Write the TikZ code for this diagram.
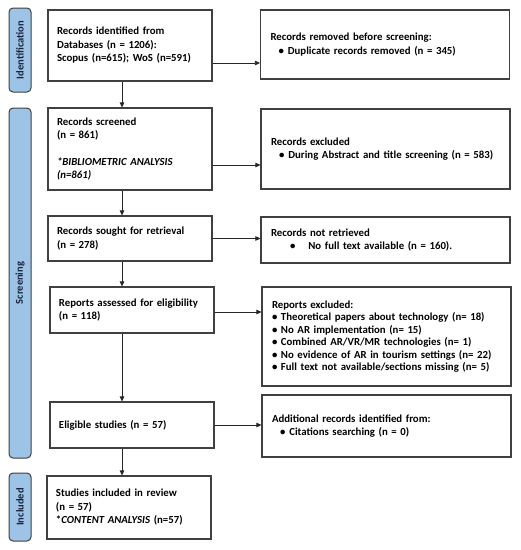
\documentclass[tikz,border=0pt]{standalone}
\usepackage{fontspec}
\setmainfont{Carlito}
\usetikzlibrary{arrows.meta}
\definecolor{stagefill}{RGB}{157,195,230}
\definecolor{stagetext}{RGB}{25,35,60}
\definecolor{edgegray}{RGB}{64,64,64}
\begin{document}
\begin{tikzpicture}[
    x=1pt, y=-1pt,
    font=\fontsize{10.8}{13.5}\selectfont\bfseries,
    box/.style={draw=edgegray, line width=1.1pt, minimum height=#1, inner ysep=0pt, align=left},
    mainbox/.style={box=#1, text width=146pt, inner xsep=9pt},
    sidebox/.style={box=#1, text width=229pt, inner xsep=10pt},
    stage/.style={draw=edgegray, line width=1pt, fill=stagefill, rounded corners=4pt, rotate=90,
      minimum width=#1, minimum height=22pt, inner sep=0pt, font=\fontsize{10.5}{11}\selectfont\bfseries, text=stagetext},
    arrow/.style={-{Triangle[length=5pt, width=4.5pt]}, line width=0.7pt, draw=black!85}
  ]
  \useasboundingbox (0,0) rectangle (521,550);

  % Stage bars on the left
  \node[stage=84pt] (ident) at (20,50) {Identification};
  \node[stage=350pt] (screen) at (20,283) {Screening};
  \node[stage=68pt] (incl) at (20,507) {Included};

  % Main flow boxes
  \node[mainbox=71pt] (found) at (130,45.5) {Records identified from\\Databases (n = 1206):\\Scopus (n=615); WoS (n=591)};
  \node[mainbox=82pt] (screened) at (130,149) {Records screened\\(n = 861)\\[13pt]\textit{*BIBLIOMETRIC ANALYSIS}\\\textit{(n=861)}};
  \node[mainbox=45pt] (sought) at (130,238.5) {Records sought for retrieval\\(n = 278)};
  \node[mainbox=46pt] (assessed) at (132,310) {Reports assessed for eligibility\\(n = 118)};
  \node[mainbox=46pt] (eligible) at (132,425) {Eligible studies (n = 57)};
  \node[mainbox=63pt] (included) at (129,507.5) {Studies included in review\\(n = 57)\\{*}\textit{CONTENT ANALYSIS} (n=57)};

  % Side boxes
  \node[sidebox=69pt] (removed) at (385,44.5) {Records removed before screening:\\\hspace*{8pt}\textbullet\hspace{4pt}Duplicate records removed (n = 345)};
  \node[sidebox=80pt] (excluded) at (385.5,149) {Records excluded\\\hspace*{8pt}\textbullet\hspace{4pt}During Abstract and title screening (n = 583)};
  \node[sidebox=46pt] (notretr) at (385.5,240) {Records not retrieved\\\hspace*{19pt}\textbullet\hspace{13pt}No full text available (n = 160).};
  \node[sidebox=99pt, font=\fontsize{10.8}{12.5}\selectfont\bfseries] (repexcl) at (386.5,336.5) {Reports excluded:\\\textbullet\ Theoretical papers about technology (n= 18)\\\textbullet\ No AR implementation (n= 15)\\\textbullet\ Combined AR/VR/MR technologies (n= 1)\\\textbullet\ No evidence of AR in tourism settings (n= 22)\\\textbullet\ Full text not available/sections missing (n= 5)};
  \node[sidebox=62pt] (additional) at (386.5,426) {Additional records identified from:\\\hspace*{8pt}\textbullet\hspace{4pt}Citations searching (n = 0)};

  % Downward flow
  \coordinate (col) at (122,0);
  \draw[arrow] (found.south -| col) -- (screened.north -| col);
  \draw[arrow] (screened.south -| col) -- (sought.north -| col);
  \draw[arrow] (sought.south -| col) -- (assessed.north -| col);
  \draw[arrow] (assessed.south -| col) -- (eligible.north -| col);
  \draw[arrow] (eligible.south -| col) -- (included.north -| col);

  % Arrows to the side boxes
  \draw[arrow] ([yshift=-17.5pt]found.east) -- ([yshift=-17.5pt]found.east -| removed.west);
  \draw[arrow] ([yshift=-16pt]screened.east) -- ([yshift=-16pt]screened.east -| excluded.west);
  \draw[arrow] (sought.east) -- (sought.east -| notretr.west);
  \draw[arrow] ([yshift=-2pt]assessed.east) -- ([yshift=-2pt]assessed.east -| repexcl.west);
  \draw[arrow] (eligible.east) -- (eligible.east -| additional.west);

\end{tikzpicture}
\end{document}
